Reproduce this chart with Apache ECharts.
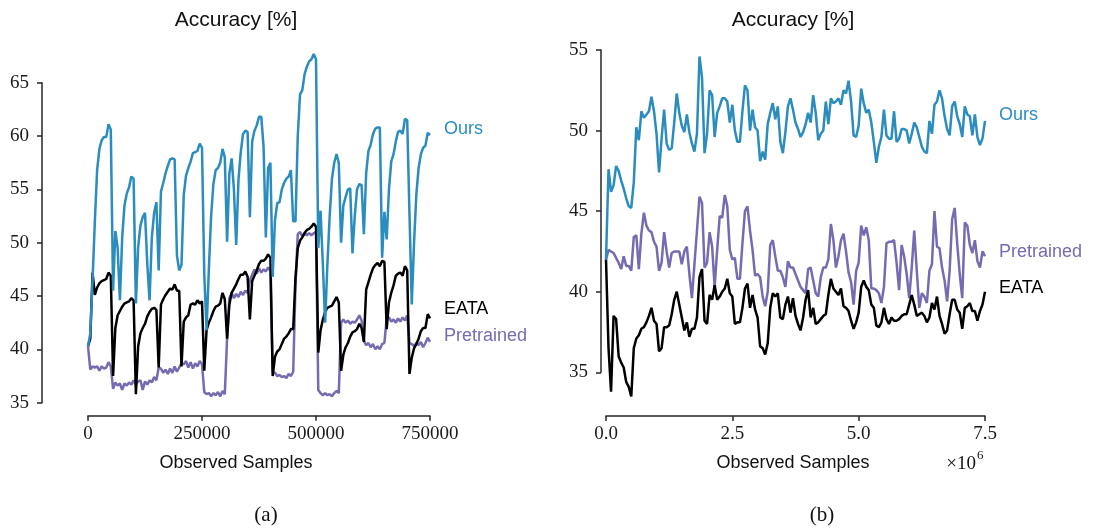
<!DOCTYPE html>
<html><head><meta charset="utf-8">
<script src="https://cdn.jsdelivr.net/npm/echarts/dist/echarts.min.js"></script>
<style>html,body{margin:0;padding:0;background:#fff}#c{width:1094px;height:530px}</style>
</head><body><div id="c"></div>
<script>
// ---------- data ----------
const leftSamples = Array.from({length: 151}, (_, i) => i * 5000);
const rightSamples = Array.from({length: 151}, (_, i) => i * 50000);

const leftOurs = [
  40.3, 41.5, 46.5, 52, 56.8, 58.8, 59.6, 59.9, 59.9, 61.1,
  60.6, 45.5, 51.1, 49.5, 44.6, 50.5, 53.5, 54.6, 55.2, 56.2,
  56, 44.3, 49.6, 51.6, 52.4, 52.8, 48, 44.6, 50.5, 52.8,
  53.8, 47.4, 54.8, 55.6, 56.5, 57.2, 57.8, 57.9, 57.8, 48.8,
  47.4, 47.9, 54.5, 56.3, 57, 57.6, 58.4, 58.5, 58.6, 59.3,
  58.9, 47, 41.8, 47.5, 52.5, 55.5, 56.8, 57, 57.5, 58.8,
  58, 50.1, 56.5, 57.9, 55, 49.8, 55.9, 58.5, 60.2, 60.5,
  60.4, 52.4, 59.5, 60.5, 61, 61.8, 61.8, 59, 50.5, 57,
  57.5, 46.8, 52.1, 53.7, 53.8, 55, 55.6, 56, 56.2, 56.8,
  52, 52, 60, 63.9, 64.3, 65.8, 66.5, 67, 67.2, 67.7,
  67.2, 49.5, 53, 48, 42.5, 48, 52.5, 56, 57.5, 58.3,
  57.5, 50, 53.5, 54.3, 55, 55.1, 49, 52.5, 55, 55.5,
  55.4, 50.8, 56.5, 58.6, 59.2, 60.2, 60.7, 60.8, 60.8, 48.6,
  52.9, 50.3, 55, 57.6, 58.3, 59.5, 60.4, 60.5, 60.2, 61.6,
  61.5, 52.7, 44.2, 50, 54.5, 57, 58.3, 58.9, 59.1, 60.3,
  60.1
];
const leftEATA = [
  40.3, 41, 47.2, 45.1, 45.8, 46.2, 46.4, 46.5, 46.6, 47.2,
  46.9, 37.5, 42, 43.2, 43.6, 44, 44.3, 44.4, 44.5, 44.8,
  44.6, 35.8, 40.3, 41.5, 42, 42.4, 43.1, 43.5, 43.8, 43.9,
  43.7, 38.3, 44.2, 44.7, 45.1, 45.4, 45.7, 45.6, 46.1, 45.5,
  45.5, 38.4, 42.6, 43, 43.2, 44.2, 44.3, 44.2, 44.6, 44.3,
  44.5, 38, 41.8, 42.5, 43, 43.6, 44, 44.1, 44.3, 45.3,
  44.7, 41, 44.2, 45.3, 45.7, 46.1, 46.6, 47, 47, 47.3,
  46.8, 42.8, 46.4, 46.9, 47.4, 48, 48.3, 48.3, 48.5, 48.9,
  48.6, 37.5, 39.3, 39.8, 40, 40.5, 41, 41.2, 41.5, 41.9,
  41.9, 46.7, 49.5, 50.2, 50.5, 50.9, 51.2, 51.3, 51.5, 51.8,
  51.5, 39.7, 41.8, 42.8, 43.5, 43.9, 44, 44.1, 44.5, 44.9,
  44.4, 38, 39.5, 40.2, 40.6, 41.2, 41.6, 41.7, 41.9, 42.4,
  42, 40.7, 45.6, 46.3, 47, 47.6, 47.9, 48.1, 47.8, 48.3,
  48.2, 41.9, 44.4, 45.3, 46, 46.9, 47.1, 47.2, 46.9, 47.8,
  47.4, 37.7, 39.2, 40.1, 40.5, 41, 41.7, 42, 42, 43.3,
  42.9
];
const leftPretrained = [
  40.3, 38.1, 38.4, 38.3, 38.4, 38.0, 38.4, 38.2, 38.3, 38.8,
  38.4, 36.3, 36.9, 36.6, 36.8, 36.2, 36.8, 36.6, 36.9, 36.7,
  37.1, 36.7, 37.0, 37.1, 36.2, 37.0, 36.7, 37.1, 36.9, 37.4,
  37.1, 38.3, 38.2, 37.8, 38.1, 37.7, 38.2, 37.8, 38.4, 37.9,
  38.3, 38.7, 38.6, 38.9, 38.3, 38.8, 38.2, 38.7, 38.4, 38.9,
  38.6, 36.0, 35.8, 35.9, 35.6, 35.9, 35.7, 36.0, 35.6, 36.1,
  35.8, 41.0, 44.8, 45.3, 44.8, 45.2, 44.9, 45.4, 45.1, 45.5,
  45.3, 46.5, 47.0, 47.5, 47.1, 47.6, 47.2, 47.5, 47.3, 47.7,
  47.3, 37.9, 37.8, 37.5, 37.6, 37.4, 37.5, 37.3, 37.7, 37.5,
  37.9, 46.0, 50.8, 51.0, 50.6, 50.9, 50.7, 50.9, 50.7, 50.9,
  51.0, 36.2, 35.9, 35.7, 35.9, 35.7, 35.8, 35.6, 35.9, 36.1,
  35.9, 42.5, 42.8, 42.5, 42.7, 42.4, 42.6, 42.5, 42.8, 43.2,
  42.7, 40.8, 40.4, 40.6, 40.2, 40.5, 40.0, 40.3, 40.0, 40.5,
  40.6, 42.9, 43.0, 42.6, 42.8, 42.5, 42.9, 42.6, 43.0, 42.7,
  43.2, 40.6, 40.5, 40.3, 40.6, 40.4, 40.7, 40.2, 40.6, 41.1,
  40.7
];

const rightOurs = [
  42, 47.6, 46.2, 46.6, 47.8, 47.5, 46.9, 46.4, 45.8, 45.3,
  45.2, 46.8, 50.2, 49.4, 51.2, 50.8, 51, 51.2, 52.1, 51.2,
  49.8, 47.4, 49.5, 51.3, 49.2, 48.8, 48.9, 50.5, 52.3, 51.1,
  50.3, 49.9, 51, 49.9, 49.2, 48.7, 49.8, 54.6, 53.3, 48.6,
  49.8, 52.5, 52.2, 49.6, 51.1, 51.5, 52, 52, 51.8, 50.5,
  51.6, 50, 49.3, 49.3, 51.2, 52.8, 52.5, 50, 51.3, 50.2,
  50, 48.1, 48.7, 48.2, 50.4, 51.1, 51.7, 50.7, 51.5, 49.3,
  48.6, 49.9, 51.5, 52, 51.3, 50.5, 50.1, 49.6, 49.9, 50.4,
  51.1, 50.5, 52.2, 51.1, 49.4, 49.8, 50, 51.8, 50.4, 52,
  51.7, 51.8, 52, 51.6, 52.5, 52.3, 53.1, 51.8, 49.7, 49.6,
  50.3, 52.6, 51.7, 51.1, 51.3, 50.5, 49.3, 48, 49, 49.6,
  51.3, 49.7, 49.5, 49.5, 51.2, 49.3, 49.5, 50.1, 50.1, 50,
  49.2, 49.8, 50.5, 50.2, 49.6, 49, 48.7, 48.6, 50.6, 49.8,
  51.6, 51.8, 52.5, 52, 50.9, 50.1, 49.7, 51.5, 51.8, 50.9,
  50.4, 49.6, 51.5, 51, 50.9, 49.7, 51, 49.6, 49.1, 49.5,
  50.6
];
const rightPretrained = [
  42, 42.6, 42.5, 42.4, 42.1, 41.8, 41.4, 42.2, 41.6, 41.6,
  41.3, 43.4, 43.5, 41.4, 43.6, 44.9, 44.1, 43.8, 43.7, 43.1,
  42.8, 41.3, 41.8, 43.7, 42.5, 41.5, 42.4, 42.5, 42.5, 42.5,
  41.7, 42.5, 42.8, 41.1, 39.6, 41.7, 43.8, 45.9, 45.5, 41.5,
  41.8, 43.7, 42.8, 40.3, 42.6, 44.7, 44.6, 46, 45.3, 42.6,
  42, 42.1, 40.8, 40.8, 43, 45, 45.3, 43.8, 42.6, 41,
  41.1, 40.9, 39.7, 39.1, 40, 42.9, 43.2, 42.2, 41.3, 41.3,
  40.9, 40.3, 41.9, 41.5, 41.5, 41.1, 40.7, 40.3, 40.1, 39.9,
  41.4, 41.5, 40.7, 39.9, 39.7, 40.9, 41.5, 41.5, 42, 44.2,
  43.2, 41.5, 42.2, 43.2, 43.6, 42.5, 41.2, 40.6, 39.2, 41.3,
  41.8, 44.1, 43.5, 44, 43.2, 40.2, 40.2, 40.1, 39.9, 39.3,
  40.3, 43, 43.1, 43.1, 43.2, 41.8, 40.1, 42.9, 42.2, 41.1,
  39.6, 41.5, 43.8, 41.3, 39, 39.9, 39.7, 39.3, 41.3, 41.7,
  45, 42.8, 42.7, 41.5, 40.7, 39.4, 41.3, 44.5, 45.2, 43,
  41.1, 39.6, 44.3, 44.1, 42.9, 42.4, 43.2, 41.9, 41.5, 42.5,
  42.2
];
const rightEATA = [
  42, 36.5, 33.8, 38.5, 38.3, 36, 35.6, 35.3, 34.4, 34.1,
  33.5, 36.5, 37.1, 37.3, 37.7, 37.8, 38.1, 38.5, 39, 38.2,
  38, 36.3, 36.5, 37.8, 37.8, 37.9, 38.6, 39.5, 40, 39.2,
  38.4, 37.6, 38.1, 37.2, 37.7, 37.7, 38.4, 40.9, 41.4, 38.2,
  38, 39.8, 39.5, 40.4, 39.5, 39.7, 40, 40.2, 40.8, 39.9,
  39.7, 38, 38.1, 38.1, 39, 40.2, 40.5, 39, 39.8, 38.9,
  38.4, 36.6, 36.5, 36.1, 36.8, 39, 39.9, 39.7, 39.9, 38.4,
  38.3, 39.2, 39.7, 38.7, 39.6, 38.5, 38, 37.6, 38.4, 39.5,
  40.1, 38.4, 39, 38, 38.1, 38.3, 38.5, 38.6, 39.8, 40.8,
  40.2, 40, 39.8, 40.2, 39.1, 39, 38.8, 38.2, 37.7, 38.1,
  38.7, 40.3, 40.7, 40.3, 40.1, 39.2, 39, 37.9, 37.8, 38.1,
  39, 38.3, 38, 38.4, 38.2, 38.2, 38.3, 38.5, 38.6, 38.6,
  39.2, 39.8, 39.2, 38.5, 38.6, 38.7, 38.5, 38.1, 38.4, 39.3,
  38.9, 39.7, 38.5, 38, 37.4, 37.6, 38.6, 39.5, 39.5, 38.9,
  38.7, 37.7, 39, 39.1, 39.3, 38.8, 38.8, 38.2, 38.8, 39.2,
  40
];

const leftYTicks = {min: 35, max: 65, step: 5};
const leftXTicks = {min: 0, max: 750000, step: 250000};
const rightYTicks = {min: 35, max: 55, step: 5};
const rightXTicks = {min: 0, max: 7500000, step: 2500000};

// ---------- style ----------
const BLUE = '#2b8cbe', PURPLE = '#756bb1', BLACK = '#000000';
const SERIF = '"Liberation Serif", "DejaVu Serif", serif';
const SANS = '"Liberation Sans", "DejaVu Sans", sans-serif';
const AX = '#262626';

function pairs(xs, ys) { return xs.map((x, i) => [x, ys[i]]); }

function lineSeries(name, color, idx, xs, ys, z, dy) {
  return {
    type: 'line', name, xAxisIndex: idx, yAxisIndex: idx,
    data: pairs(xs, ys), showSymbol: false, symbol: 'none', clip: false, z,
    lineStyle: {color, width: 2.5}, itemStyle: {color},
    endLabel: {show: true, formatter: '{a}', color, fontFamily: SANS, fontSize: 18,
               distance: 14, offset: [0, dy]},
    emphasis: {disabled: true}, silent: true
  };
}

function xAxisDef(idx, t, offset, fmt) {
  return {
    gridIndex: idx, type: 'value', min: t.min, max: t.max, interval: t.step, offset,
    axisLine: {show: true, onZero: false, lineStyle: {color: AX, width: 1.5}},
    axisTick: {show: true, length: 5, lineStyle: {color: AX, width: 1.5}},
    axisLabel: {fontFamily: SERIF, fontSize: 19, color: '#1a1a1a', margin: 9, formatter: fmt},
    splitLine: {show: false}
  };
}
function yAxisDef(idx, t, offset) {
  return {
    gridIndex: idx, type: 'value', min: t.min, max: t.max, interval: t.step, offset,
    axisLine: {show: true, onZero: false, lineStyle: {color: AX, width: 1.5}},
    axisTick: {show: true, length: 5, lineStyle: {color: AX, width: 1.5}},
    axisLabel: {fontFamily: SERIF, fontSize: 19, color: '#1a1a1a', margin: 13},
    splitLine: {show: false}
  };
}

function txt(text, x, y, font, size, align, color) {
  return {type: 'text', x, y, silent: true, style: {
    text, fontFamily: font, fontSize: size, fill: color || '#111',
    align: align || 'center', verticalAlign: 'middle',
    textAlign: align || 'center', textVerticalAlign: 'middle'}};
}

const chart = echarts.init(document.getElementById('c'), null, {renderer: 'canvas'});
chart.setOption({
  animation: false,
  backgroundColor: '#ffffff',
  grid: [
    {left: 88, top: 82.7, width: 342, height: 320},
    {left: 606, top: 50, width: 379, height: 322.3}
  ],
  xAxis: [
    xAxisDef(0, leftXTicks, 13, v => String(v)),
    xAxisDef(1, rightXTicks, 43.7, v => (v / 1e6).toFixed(1))
  ],
  yAxis: [
    yAxisDef(0, leftYTicks, 46),
    yAxisDef(1, rightYTicks, 5)
  ],
  series: [
    lineSeries('Pretrained', PURPLE, 0, leftSamples, leftPretrained, 2, -6),
    lineSeries('EATA', BLACK, 0, leftSamples, leftEATA, 3, -9),
    lineSeries('Ours', BLUE, 0, leftSamples, leftOurs, 4, -6),
    lineSeries('Pretrained', PURPLE, 1, rightSamples, rightPretrained, 2, -4),
    lineSeries('EATA', BLACK, 1, rightSamples, rightEATA, 3, -4),
    lineSeries('Ours', BLUE, 1, rightSamples, rightOurs, 4, -6)
  ],
  graphic: [
    txt('Accuracy [%]', 236, 20, SANS, 21),
    txt('Accuracy [%]', 793, 20, SANS, 21),
    txt('Observed Samples', 236, 463, SANS, 18),
    txt('Observed Samples', 793, 463, SANS, 18),
    txt('×10', 976, 464, SERIF, 19, 'right'),
    txt('6', 977, 456, SERIF, 13, 'left'),
    txt('(a)', 266, 515, SERIF, 21),
    txt('(b)', 822, 515, SERIF, 21)
  ]
});
</script></body></html>
